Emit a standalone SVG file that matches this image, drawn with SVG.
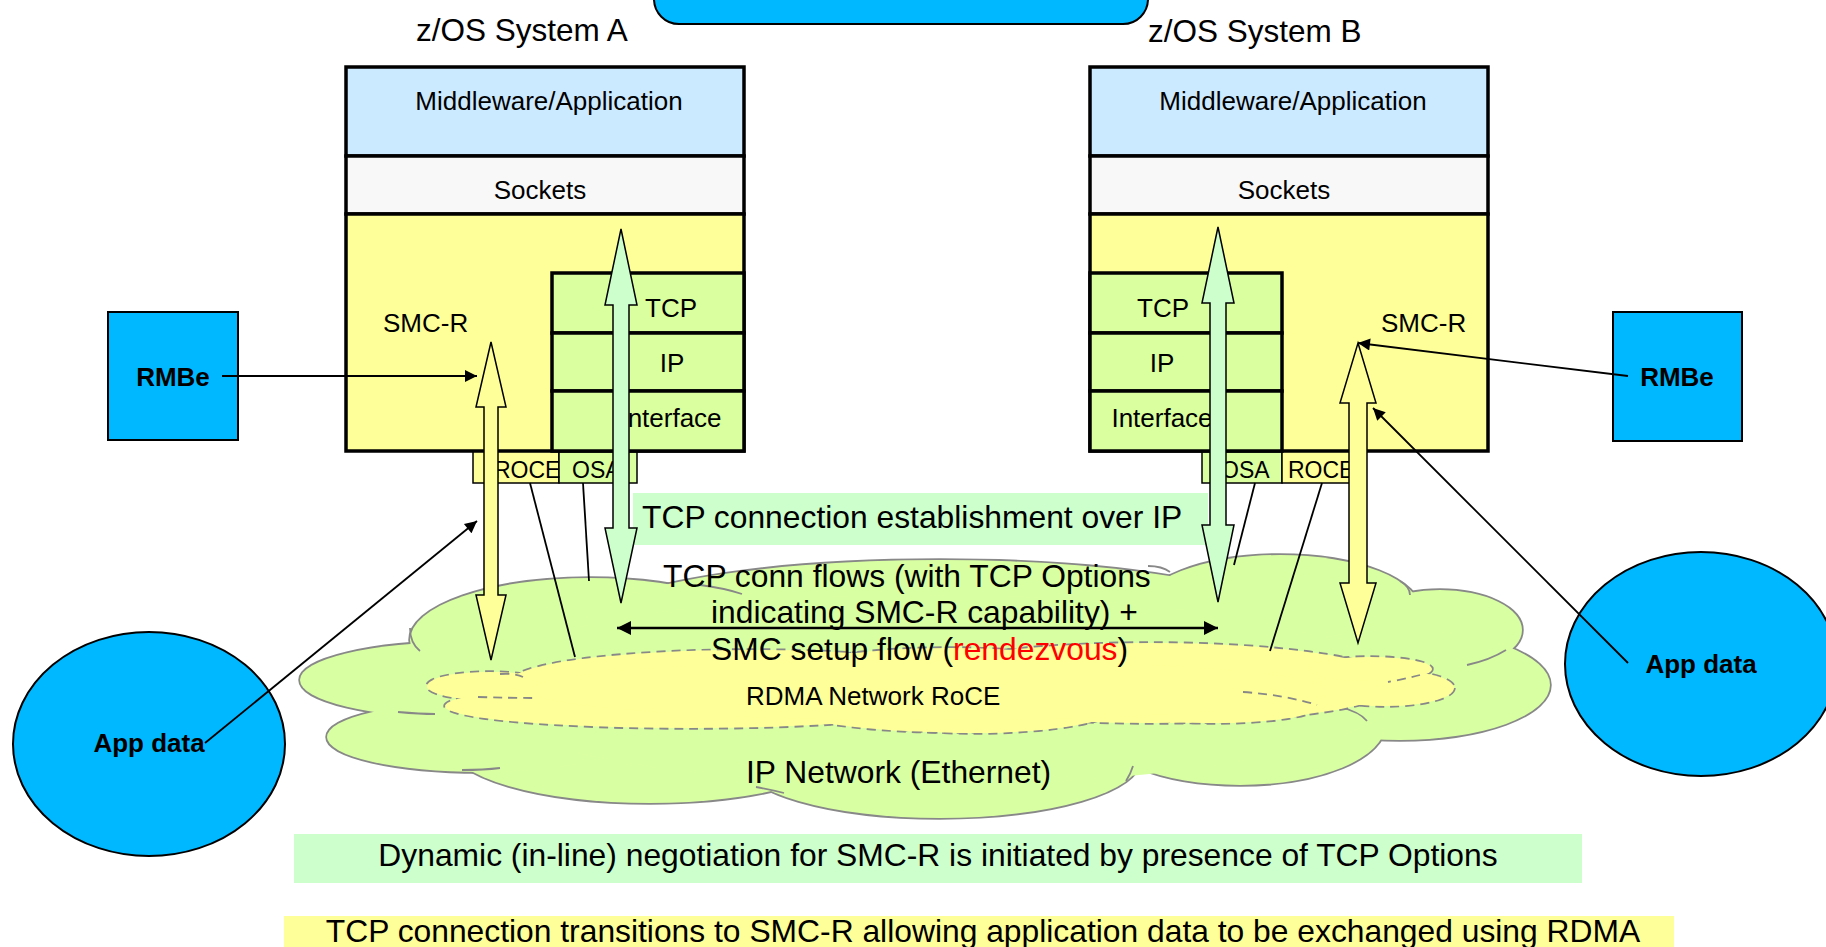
<svg xmlns="http://www.w3.org/2000/svg" width="1826" height="947" viewBox="0 0 1826 947">
<style>
text{font-family:"Liberation Sans",Arial,sans-serif;fill:#000}
.t26{font-size:26px}
.t32{font-size:31.8px}
.t23{font-size:23px}
.b26{font-size:26px;font-weight:bold}
.mw{fill:#cceaff;stroke:#000;stroke-width:3.5}
.sk{fill:#f8f8f8;stroke:#000;stroke-width:3.5}
.yl{fill:#ffff99;stroke:#000;stroke-width:3.5}
.gr{fill:#d9ff9e;stroke:#000;stroke-width:3.5}
.cellY{fill:#ffff99;stroke:#000;stroke-width:1.5}
.cellG{fill:#d9ff9e;stroke:#000;stroke-width:1.5}
.blue{fill:#00b8ff;stroke:#000;stroke-width:2}
.gcs{fill:#d9ffa3;stroke:#888;stroke-width:3.5}
.gcf{fill:#d9ffa3;stroke:none}
.ycs{fill:#ffff99;stroke:#888;stroke-width:3.5;stroke-dasharray:9 6}
.ycf{fill:#ffff99;stroke:none}
.hk{fill:none;stroke:#888;stroke-width:1.8}
.hkd{fill:none;stroke:#888;stroke-width:1.8;stroke-dasharray:9 6}
.ln{stroke:#000;stroke-width:1.8;fill:none}
.arr{stroke:#000;stroke-width:1.8;fill:none;marker-end:url(#ah)}
.bg{fill:#ccffcc;stroke:#000;stroke-width:1.5}
.by{fill:#ffff99;stroke:#000;stroke-width:1.5}
</style>
<defs>
<marker id="ah" viewBox="0 0 10 10" refX="10" refY="5" markerWidth="15" markerHeight="12" markerUnits="userSpaceOnUse" orient="auto-start-reverse"><path d="M0,0 L10,5 L0,10 z" fill="#000"/></marker>
<marker id="ah2" viewBox="0 0 10 10" refX="10" refY="5" markerWidth="17" markerHeight="14" markerUnits="userSpaceOnUse" orient="auto-start-reverse"><path d="M0,0 L10,5 L0,10 z" fill="#000"/></marker>
</defs>
<rect width="1826" height="947" fill="#fff"/>

<g id="top-banner"><rect class="blue" x="654" y="-30" width="494" height="54" rx="25"/></g>

<g id="ip-network">
<ellipse class="gcs" cx="590" cy="640" rx="180" ry="62"/>
<ellipse class="gcs" cx="940" cy="630" rx="360" ry="70"/>
<ellipse class="gcs" cx="1280" cy="610" rx="140" ry="55"/>
<ellipse class="gcs" cx="1440" cy="630" rx="82" ry="40"/>
<ellipse class="gcs" cx="1400" cy="685" rx="150" ry="55"/>
<ellipse class="gcs" cx="1240" cy="725" rx="145" ry="60"/>
<ellipse class="gcs" cx="940" cy="760" rx="200" ry="58"/>
<ellipse class="gcs" cx="650" cy="745" rx="200" ry="58"/>
<ellipse class="gcs" cx="480" cy="737" rx="153" ry="35"/>
<ellipse class="gcs" cx="460" cy="680" rx="160" ry="38"/>
<ellipse class="gcf" cx="590" cy="640" rx="180" ry="62"/>
<ellipse class="gcf" cx="940" cy="630" rx="360" ry="70"/>
<ellipse class="gcf" cx="1280" cy="610" rx="140" ry="55"/>
<ellipse class="gcf" cx="1440" cy="630" rx="82" ry="40"/>
<ellipse class="gcf" cx="1400" cy="685" rx="150" ry="55"/>
<ellipse class="gcf" cx="1240" cy="725" rx="145" ry="60"/>
<ellipse class="gcf" cx="940" cy="760" rx="200" ry="58"/>
<ellipse class="gcf" cx="650" cy="745" rx="200" ry="58"/>
<ellipse class="gcf" cx="480" cy="737" rx="153" ry="35"/>
<ellipse class="gcf" cx="460" cy="680" rx="160" ry="38"/>
<ellipse class="gcf" cx="930" cy="690" rx="470" ry="95"/>
<path class="hk" d="M410,628 Q410,643 420,651"/>
<path class="hk" d="M700,585 Q724,588 742,594"/>
<path class="hk" d="M1148,566 Q1162,566 1170,572"/>
<path class="hk" d="M1400,581 Q1410,587 1410,595"/>
<path class="hk" d="M1506,650 Q1490,660 1467,665"/>
<path class="hk" d="M1340,707 Q1360,712 1367,721"/>
<path class="hk" d="M1126,781 Q1131,773 1133,766"/>
<path class="hk" d="M756,787 Q772,790 784,793"/>
<path class="hk" d="M462,770 Q484,770 500,768"/>
<path class="hk" d="M398,712 Q420,714 435,714"/>
<text class="t32" x="746" y="783">IP Network (Ethernet)</text>
</g>

<g id="rdma-network">
<ellipse class="ycs" cx="490" cy="686" rx="63" ry="14"/>
<ellipse class="ycs" cx="690" cy="706" rx="245" ry="22"/>
<ellipse class="ycs" cx="750" cy="682" rx="240" ry="32"/>
<ellipse class="ycs" cx="950" cy="690" rx="200" ry="42"/>
<ellipse class="ycs" cx="1150" cy="683" rx="250" ry="40"/>
<ellipse class="ycs" cx="975" cy="703" rx="150" ry="30"/>
<ellipse class="ycs" cx="1215" cy="707" rx="102" ry="16"/>
<ellipse class="ycs" cx="1385" cy="688" rx="69" ry="18"/>
<ellipse class="ycs" cx="1370" cy="669" rx="62" ry="12"/>
<ellipse class="ycf" cx="490" cy="686" rx="63" ry="14"/>
<ellipse class="ycf" cx="690" cy="706" rx="245" ry="22"/>
<ellipse class="ycf" cx="750" cy="682" rx="240" ry="32"/>
<ellipse class="ycf" cx="950" cy="690" rx="200" ry="42"/>
<ellipse class="ycf" cx="1150" cy="683" rx="250" ry="40"/>
<ellipse class="ycf" cx="975" cy="703" rx="150" ry="30"/>
<ellipse class="ycf" cx="1215" cy="707" rx="102" ry="16"/>
<ellipse class="ycf" cx="1385" cy="688" rx="69" ry="18"/>
<ellipse class="ycf" cx="1370" cy="669" rx="62" ry="12"/>
<ellipse class="ycf" cx="930" cy="690" rx="400" ry="30"/>
<path class="hkd" d="M500,674 Q515,673 523,677"/>
<path class="hkd" d="M478,697 Q510,698 538,698"/>
<path class="hkd" d="M1243,692 Q1285,695 1317,705"/>
<path class="hkd" d="M1420,675 Q1405,679 1388,682"/>
<text class="t26" x="746" y="705">RDMA Network RoCE</text>
</g>

<g id="system-a">
<text x="416" y="41" style="font-size:31.5px">z/OS System A</text>
<rect class="cellY" x="473" y="451" width="86" height="32"/>
<rect class="cellG" x="559" y="451" width="78" height="32"/>
<text class="t23" x="494" y="478">ROCE</text>
<text class="t23" x="572" y="478">OSA</text>
<rect class="mw" x="346" y="67" width="398" height="89"/>
<rect class="sk" x="346" y="156" width="398" height="58"/>
<rect class="yl" x="346" y="214" width="398" height="237"/>
<text class="t26" x="549" y="110" text-anchor="middle">Middleware/Application</text>
<text class="t26" x="540" y="199" text-anchor="middle">Sockets</text>
<text class="t26" x="383" y="332">SMC-R</text>
<rect class="gr" x="552" y="273" width="192" height="60"/>
<rect class="gr" x="552" y="333" width="192" height="58"/>
<rect class="gr" x="552" y="391" width="192" height="60"/>
<text class="t26" x="671" y="317" text-anchor="middle">TCP</text>
<text class="t26" x="672" y="372" text-anchor="middle">IP</text>
<text class="t26" x="671" y="427" text-anchor="middle">Interface</text>
</g>

<g id="system-b">
<text x="1148" y="42" style="font-size:31.5px">z/OS System B</text>
<rect class="cellG" x="1202" y="451" width="80" height="32"/>
<rect class="cellY" x="1282" y="451" width="78" height="32"/>
<text class="t23" x="1221" y="478">OSA</text>
<text class="t23" x="1288" y="478">ROCE</text>
<rect class="mw" x="1090" y="67" width="398" height="89"/>
<rect class="sk" x="1090" y="156" width="398" height="58"/>
<rect class="yl" x="1090" y="214" width="398" height="237"/>
<text class="t26" x="1293" y="110" text-anchor="middle">Middleware/Application</text>
<text class="t26" x="1284" y="199" text-anchor="middle">Sockets</text>
<text class="t26" x="1381" y="332">SMC-R</text>
<rect class="gr" x="1090" y="273" width="192" height="60"/>
<rect class="gr" x="1090" y="333" width="192" height="58"/>
<rect class="gr" x="1090" y="391" width="192" height="60"/>
<text class="t26" x="1163" y="317" text-anchor="middle">TCP</text>
<text class="t26" x="1162" y="372" text-anchor="middle">IP</text>
<text class="t26" x="1162" y="427" text-anchor="middle">Interface</text>
</g>

<g id="rmbe-a"><rect class="blue" x="108" y="312" width="130" height="128"/><text class="b26" x="173" y="386" text-anchor="middle">RMBe</text></g>
<g id="rmbe-b"><rect class="blue" x="1613" y="312" width="129" height="129"/><text class="b26" x="1677" y="386" text-anchor="middle">RMBe</text></g>
<g id="appdata-a"><ellipse class="blue" cx="149" cy="744" rx="136" ry="112"/><text class="b26" x="149" y="752" text-anchor="middle">App data</text></g>
<g id="appdata-b"><ellipse class="blue" cx="1701" cy="664" rx="136" ry="112"/><text class="b26" x="1701" y="673" text-anchor="middle">App data</text></g>

<g id="tcp-label"><rect x="633" y="493" width="575" height="52" fill="#ccffcc"/><text class="t32" x="642" y="528">TCP connection establishment over IP</text></g>

<g id="connectors">
<line class="ln" x1="530" y1="483" x2="575" y2="657"/>
<line class="ln" x1="583" y1="483" x2="589" y2="581"/>
<line class="ln" x1="1255" y1="483" x2="1234" y2="565"/>
<line class="ln" x1="1322" y1="483" x2="1270" y2="651"/>
<polygon class="bg" points="621,229 637,305 629,305 629,528 637,528 621,603 605,528 613,528 613,305 605,305"/>
<polygon class="bg" points="1218,227 1234,303 1226,303 1226,525 1234,525 1218,602 1202,525 1210,525 1210,303 1202,303"/>
<polygon class="by" points="491,342 506,407 498,407 498,595 506,595 491,660 476,595 484,595 484,407 476,407"/>
<polygon class="by" points="1358,343 1376,403 1367,403 1367,583 1376,583 1358,643 1340,583 1349,583 1349,403 1340,403"/>
<line class="arr" x1="222" y1="376" x2="477" y2="376"/>
<line class="arr" x1="205" y1="743" x2="477" y2="521"/>
<line class="arr" x1="1628" y1="376" x2="1358" y2="343"/>
<line class="arr" x1="1628" y1="663" x2="1373" y2="408"/>
<line x1="617" y1="628" x2="1218" y2="628" stroke="#000" stroke-width="2.5" marker-start="url(#ah2)" marker-end="url(#ah2)"/>
</g>

<g id="flow-label">
<text class="t32" x="663" y="587">TCP conn flows (with TCP Options</text>
<text class="t32" x="711" y="623">indicating SMC-R capability) +</text>
<text class="t32" x="711" y="660">SMC setup flow (<tspan fill="#ff0000">rendezvous</tspan>)</text>
</g>

<g id="note-green"><rect x="294" y="834" width="1288" height="49" fill="#ccffcc"/><text class="t32" x="938" y="866" text-anchor="middle">Dynamic (in-line) negotiation for SMC-R is initiated by presence of TCP Options</text></g>
<g id="note-yellow"><rect x="284" y="916" width="1390" height="40" fill="#ffff99"/><text class="t32" x="983" y="942" text-anchor="middle">TCP connection transitions to SMC-R allowing application data to be exchanged using RDMA</text></g>
</svg>
